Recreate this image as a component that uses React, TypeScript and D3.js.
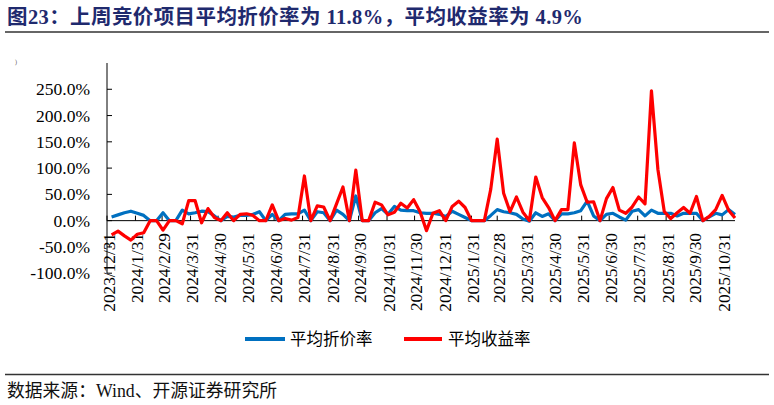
import React from "react";
import * as d3 from "d3";

const title = "图23：上周竞价项目平均折价率为 11.8%，平均收益率为 4.9%";
const source = "数据来源：Wind、开源证券研究所";
const seriesNames = ["平均折价率", "平均收益率"];
const firstWeek = "2024-01-05";
const axisStart = "2023-12-31";
const axisEnd = "2025-11-14";

const discount = [
  7, 11, 15, 18, 14, 10, 0, 0, 15, 0, 0, 20, 13, 15, 18, 17, 9, 0, 8, 7,
  10, 10, 12, 17, 0, 12, 0, 12, 13, 13, 20, 0, 17, 15, 0, 20, 12, 0, 47, 0,
  0, 15, 23, 12, 27, 20, 19, 19, 15, 14, 14, 12, 8, 18, 12, 6, 0, 0, 0, 10,
  21, 17, 15, 12, 3, -1, 15, 8, 13, 0, 13, 13, 15, 19, 37, 9, 0, 12, 14, 7,
  1, 18, 21, 9, 20, 14, 14, 14, 9, 14, 14, 14, 0, 7, 14, 11, 21, 11.8,
];

const yieldRate = [
  -27, -20, -29, -37, -26, -23, 0, 0, -18, 0, 0, -6, 38, 38, -4, 23, 6, 0, 15, 0,
  12, 13, 10, 0, 0, 30, 0, 4, 1, 6, 85, 0, 28, 26, 0, 32, 64, 0, 96, 0,
  0, 35, 30, 11, 16, 33, 24, 40, 17, -19, 14, 19, 0, 27, 37, 25, 0, 0, 0, 60,
  155, 52, 17, 45, 16, 0, 83, 44, 25, 0, 21, 21, 148, 68, 35, 36, 0, 42, 63, 20,
  14, 26, 45, 32, 247, 98, 17, 4, 15, 25, 14, 46, 0, 8, 21, 48, 20, 4.9,
];

const xLabels = [
  "2023/12/31", "2024/1/31", "2024/2/29", "2024/3/31", "2024/4/30", "2024/5/31",
  "2024/6/30", "2024/7/31", "2024/8/31", "2024/9/30", "2024/10/31", "2024/11/30",
  "2024/12/31", "2025/1/31", "2025/2/28", "2025/3/31", "2025/4/30", "2025/5/31",
  "2025/6/30", "2025/7/31", "2025/8/31", "2025/9/30", "2025/10/31",
];

const yTicks = [-100, -50, 0, 50, 100, 150, 200, 250];
const yDomain = [-100, 300];

const colors = ["#0070C0", "#FF0000"];
const serif = "'Liberation Serif', 'Times New Roman', 'Noto Sans CJK SC', serif";
const cjk = "'Liberation Serif', 'Noto Sans CJK SC', serif";

const parseISO = d3.timeParse("%Y-%m-%d");
const parseLabel = d3.timeParse("%Y/%m/%d");

export default function App() {
  const W = 774;
  const H = 405;
  const start = parseISO(firstWeek) as Date;
  const dates = discount.map((_, i) => d3.timeDay.offset(start, i * 7));

  const x = d3
    .scaleTime()
    .domain([parseISO(axisStart) as Date, parseISO(axisEnd) as Date])
    .range([107, 735]);
  const y = d3.scaleLinear().domain(yDomain).range([273.2, 63]);

  const line = d3
    .line<number>()
    .x((_, i) => x(dates[i]))
    .y((d) => y(d));

  const y0 = y(0);
  const axisX = x.range()[0];

  return (
    <svg
      width={W}
      height={H}
      style={{ position: "absolute", left: 0, top: 0, background: "#fff" }}
    >
      <rect width={W} height={H} fill="#fff" />
      {/* title */}
      <text
        x={7}
        y={17}
        dominantBaseline="central"
        fontFamily={cjk}
        fontWeight="bold"
        fontSize={20.5}
        letterSpacing={0.4}
        fill="#1F2A6E"
      >
        {title}
      </text>
      <line x1={5} x2={769} y1={32} y2={32} stroke="#333" strokeWidth={1.3} />
      <text x={15} y={64} fontSize={6} fill="#555" fontFamily={serif}>
        )
      </text>

      {/* y axis */}
      <line x1={axisX} x2={axisX} y1={y(yDomain[1])} y2={y(yDomain[0])} stroke="#000" strokeWidth={1} />
      {yTicks.map((t) => (
        <g key={t}>
          <line x1={axisX} x2={axisX + 5} y1={y(t)} y2={y(t)} stroke="#000" strokeWidth={1} />
          <text
            x={90}
            y={y(t)}
            textAnchor="end"
            dominantBaseline="central"
            fontFamily={serif}
            fontSize={17.5}
            fill="#000"
          >
            {t.toFixed(1) + "%"}
          </text>
        </g>
      ))}

      {/* x axis */}
      <line x1={axisX} x2={x.range()[1]} y1={y0} y2={y0} stroke="#000" strokeWidth={1} />
      {xLabels.map((lab) => {
        const px = x(parseLabel(lab) as Date);
        return (
          <g key={lab}>
            <line x1={px} x2={px} y1={y0} y2={y0 - 5} stroke="#000" strokeWidth={1} />
            <text
              transform={`translate(${px + 1.5},233) rotate(-90)`}
              textAnchor="end"
              dy="0.35em"
              fontFamily={serif}
              fontSize={17.3}
              fill="#000"
            >
              {lab}
            </text>
          </g>
        );
      })}

      {/* series */}
      <path d={line(discount) || ""} fill="none" stroke={colors[0]} strokeWidth={3.2} strokeLinejoin="round" />
      <path d={line(yieldRate) || ""} fill="none" stroke={colors[1]} strokeWidth={3.2} strokeLinejoin="round" />

      {/* legend */}
      {[
        { x1: 245, x2: 285, tx: 290 },
        { x1: 404, x2: 442, tx: 448 },
      ].map((p, i) => (
        <g key={i}>
          <line x1={p.x1} x2={p.x2} y1={339} y2={339} stroke={colors[i]} strokeWidth={4} />
          <text
            x={p.tx}
            y={339}
            dominantBaseline="central"
            fontFamily={cjk}
            fontSize={16.5}
            fill="#000"
          >
            {seriesNames[i]}
          </text>
        </g>
      ))}

      {/* source */}
      <line x1={5} x2={769} y1={374.5} y2={374.5} stroke="#333" strokeWidth={1.3} />
      <text x={7} y={391} dominantBaseline="central" fontFamily={cjk} fontSize={17.8} fill="#111">
        {source}
      </text>
    </svg>
  );
}
